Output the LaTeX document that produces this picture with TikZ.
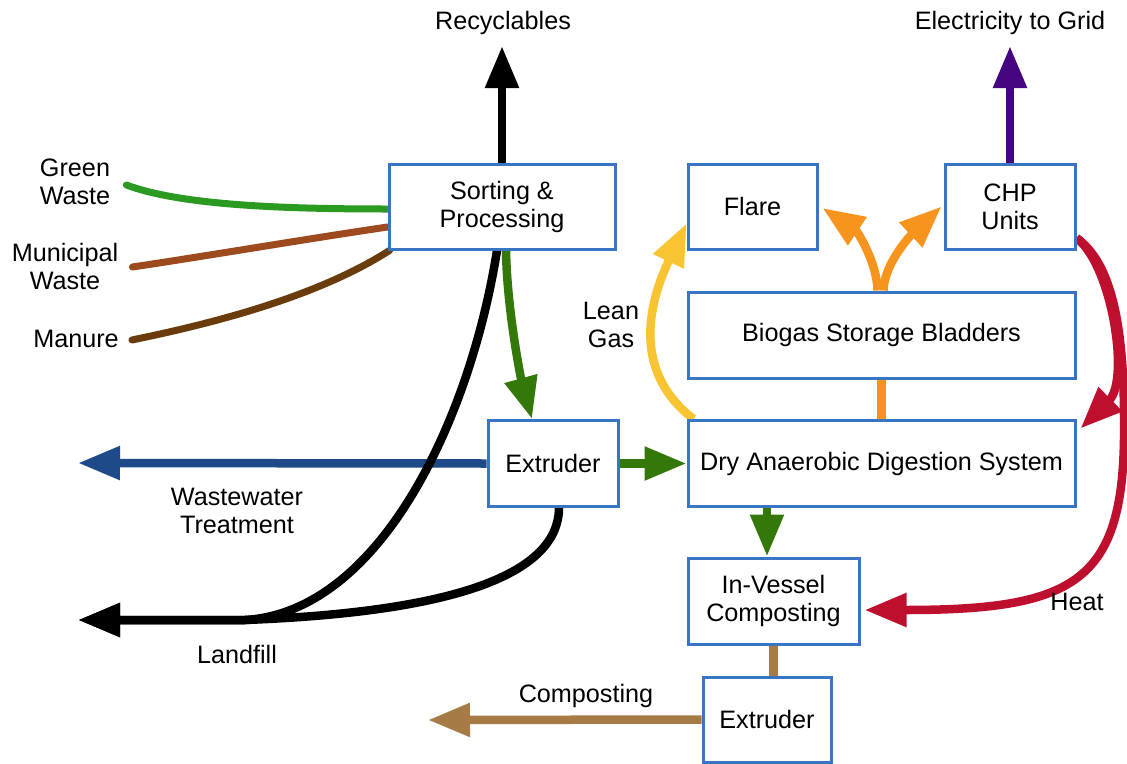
\documentclass[tikz,border=0pt]{standalone}
\usepackage{fontspec}
\setmainfont{Liberation Sans}
\usetikzlibrary{arrows.meta,calc}
\newcommand\diagfs{\fontsize{25.2}{28}\selectfont}
\definecolor{boxblue}{RGB}{58,117,196}
\definecolor{gwgreen}{RGB}{43,154,32}
\definecolor{muni}{RGB}{158,74,31}
\definecolor{manurec}{RGB}{106,60,12}
\definecolor{dgreen}{RGB}{53,120,10}
\definecolor{wblue}{RGB}{31,74,138}
\definecolor{gorange}{RGB}{247,148,30}
\definecolor{lyellow}{RGB}{249,196,50}
\definecolor{hred}{RGB}{190,16,46}
\definecolor{epurple}{RGB}{69,4,128}
\definecolor{ctan}{RGB}{166,123,69}
\pgfdeclarelayer{bg}
\pgfsetlayers{bg,main}
\begin{document}
\begin{tikzpicture}[x=1pt,y=-1pt,
  box/.style={draw=boxblue,line width=3pt,fill=white,inner sep=0pt,align=center,font=\diagfs},
  lbl/.style={align=center,font=\diagfs,inner sep=0pt},
  flow/.style={line width=8.5pt},
  tipped/.style={-{Triangle[length=42pt,width=32pt]}},
  feed/.style={line width=7pt,line cap=round}]
\useasboundingbox (0,0) rectangle (1127,763);

% boxes
\node[box,minimum width=226pt,minimum height=85pt] (sort) at (502,206.5) {Sorting \&\\Processing};
\node[box,minimum width=129pt,minimum height=85pt] (flare) at (752.5,206.5) {Flare};
\node[box,minimum width=130pt,minimum height=85pt] (chp) at (1010,206.5) {CHP\\Units};
\node[box,minimum width=387pt,minimum height=86pt] (biogas) at (881.5,335) {Biogas Storage Bladders};
\node[box,minimum width=130pt,minimum height=86pt] (ext1) at (553,463.5) {Extruder};
\node[box,minimum width=387pt,minimum height=86pt] (dad) at (881.5,463.5) {Dry Anaerobic Digestion System};
\node[box,minimum width=171pt,minimum height=86pt] (ivc) at (773.5,601) {In-Vessel\\Composting};
\node[box,minimum width=128pt,minimum height=85pt] (ext2) at (767,719.5) {Extruder};

% labels
\node[lbl] (recl) at (503,23) {Recyclables};
\node[lbl] (elecl) at (1010,23) {Electricity to Grid};
\node[lbl] (gw) at (75,182) {Green\\Waste};
\node[lbl] (mw) at (65,266) {Municipal\\Waste};
\node[lbl] (man) at (76,339) {Manure};
\node[lbl] (lean) at (611,325) {Lean\\Gas};
\node[lbl] (wwtl) at (237,511) {Wastewater\\Treatment};
\node[lbl] (landl) at (237,654) {Landfill};
\node[lbl] (compl) at (586,696) {Composting};
\node[lbl] (heat) at (1077,602) {Heat};

% free ends
\coordinate (recyc) at (502,46);
\coordinate (elec) at (1010,46);
\coordinate (wwt) at (78,463);
\coordinate (landfill) at (78,620);
\coordinate (compost) at (428,720);

\begin{pgfonlayer}{bg}
% feeders
\draw[feed,gwgreen] ([xshift=16pt,yshift=-3pt]gw.east) .. controls (180,205) and (280,209) .. ([yshift=-2.5pt]sort.west);
\draw[feed,muni] ([xshift=14pt,yshift=-1pt]mw.east) .. controls (200,257) and (300,240) .. ([yshift=-20.5pt]sort.west);
\draw[feed,manurec] ([xshift=13pt,yshift=-1pt]man.east) .. controls (220,322) and (320,295) .. ([xshift=2pt]sort.south west);
% wastewater
\draw[flow,tipped,wblue] (ext1.west) -- (wwt);
% landfill
\draw[flow,tipped,black] ([xshift=-5pt]sort.south) .. controls (470,420) and (380,612) .. (245,620) -- (landfill);
\draw[flow,tipped,black] ([xshift=6pt]ext1.south) .. controls (558,590) and (400,614) .. (245,620) -- (landfill);
% recyclables
\draw[flow,tipped,black] (sort.north) -- (recyc);
% electricity
\draw[flow,tipped,epurple] (chp.north) -- (elec);
% green flows
\draw[flow,tipped,dgreen] ([xshift=4pt]sort.south) .. controls (507,310) and (521,379) .. ([xshift=-21pt]ext1.north);
\draw[flow,tipped,dgreen] (ext1.east) -- (dad.west);
\draw[flow,tipped,dgreen] ([xshift=-114.5pt]dad.south) -- ([xshift=-6.5pt]ivc.north);
% biogas
\draw[flow,gorange] (dad.north) -- (biogas.south);
\draw[flow,tipped,gorange] ([xshift=-4pt]biogas.north) .. controls (877,262) and (857,231) .. ([xshift=4pt,yshift=-1.5pt]flare.east);
\draw[flow,tipped,gorange] ([xshift=2pt]biogas.north) .. controls (884,262) and (914,232) .. ([xshift=-2pt]chp.west);
% lean gas
\draw[flow,tipped,lyellow] ([xshift=7pt]dad.north west) .. controls (630,370) and (650,300) .. ([yshift=-17pt]flare.west);
% heat
\draw[flow,tipped,hred] ([yshift=-31.5pt]chp.east) .. controls (1112,265) and (1130,380) .. ([xshift=4pt,yshift=-9.5pt]dad.north east);
\draw[flow,tipped,hred] ([yshift=-31.5pt]chp.east) .. controls (1110,262) and (1124,320) .. (1124,420) .. controls (1126,580) and (1080,610) .. ([xshift=4pt,yshift=-9pt]ivc.east);
% compost
\draw[flow,ctan] (ivc.south) -- (ivc.south |- ext2.north);
\draw[flow,tipped,ctan] (ext2.west) -- (compost);
\end{pgfonlayer}
\end{tikzpicture}
\end{document}
